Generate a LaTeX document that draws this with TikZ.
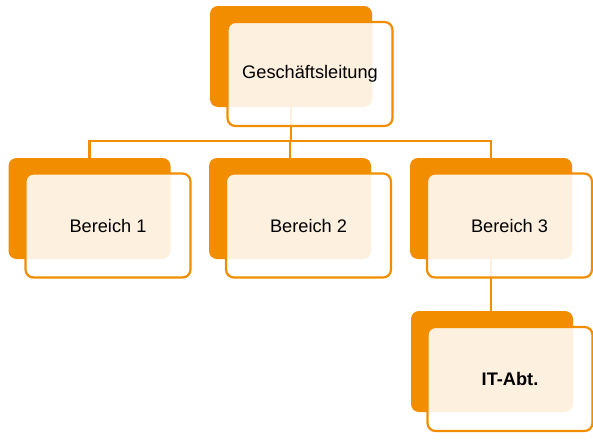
\documentclass[tikz,border=0pt]{standalone}
\usepackage{fontspec}
\setmainfont{Liberation Sans}
\definecolor{orng}{RGB}{242,141,0}
\begin{document}
\begin{tikzpicture}[x=1pt,y=-1pt,
  back/.style={fill=orng, draw=none, rounded corners=8pt, minimum width=162pt, minimum height=101pt, inner sep=0pt},
  front/.style={fill=white, fill opacity=0.87, text opacity=1, draw=orng, draw opacity=1, line width=2.2pt, rounded corners=8pt, minimum width=165pt, minimum height=104pt, inner sep=0pt, font=\fontsize{18.2}{20}\selectfont},
  conn/.style={draw=orng, line width=2.2pt}]
\useasboundingbox (0,0) rectangle (593,439);
% back shapes
\node[back] (gb) at (291,56.5) {};
\node[back] (b1b) at (89.5,208.5) {};
\node[back] (b2b) at (290,208.5) {};
\node[back] (b3b) at (491,208.5) {};
\node[back] (itb) at (492,361.5) {};
% connectors
\coordinate (bus) at (291,141);
\draw[conn] (gb.south) -- (bus);
\draw[conn] (bus) -| (b1b.north);
\draw[conn] (bus) -| (b2b.north);
\draw[conn] (bus) -| (b3b.north);
\draw[conn] (b3b.south) -- (b3b.south |- itb.north);
% front shapes
\node[front] (gf) at (310,74) {\raisebox{-2pt}{Geschäftsleitung}};
\node[front] (b1f) at (108,225.5) {Bereich 1};
\node[front] (b2f) at (308.5,225.5) {Bereich 2};
\node[front] (b3f) at (509.5,225.5) {Bereich 3};
\node[front] (itf) at (510,379) {\textbf{IT-Abt.}};
\end{tikzpicture}
\end{document}
